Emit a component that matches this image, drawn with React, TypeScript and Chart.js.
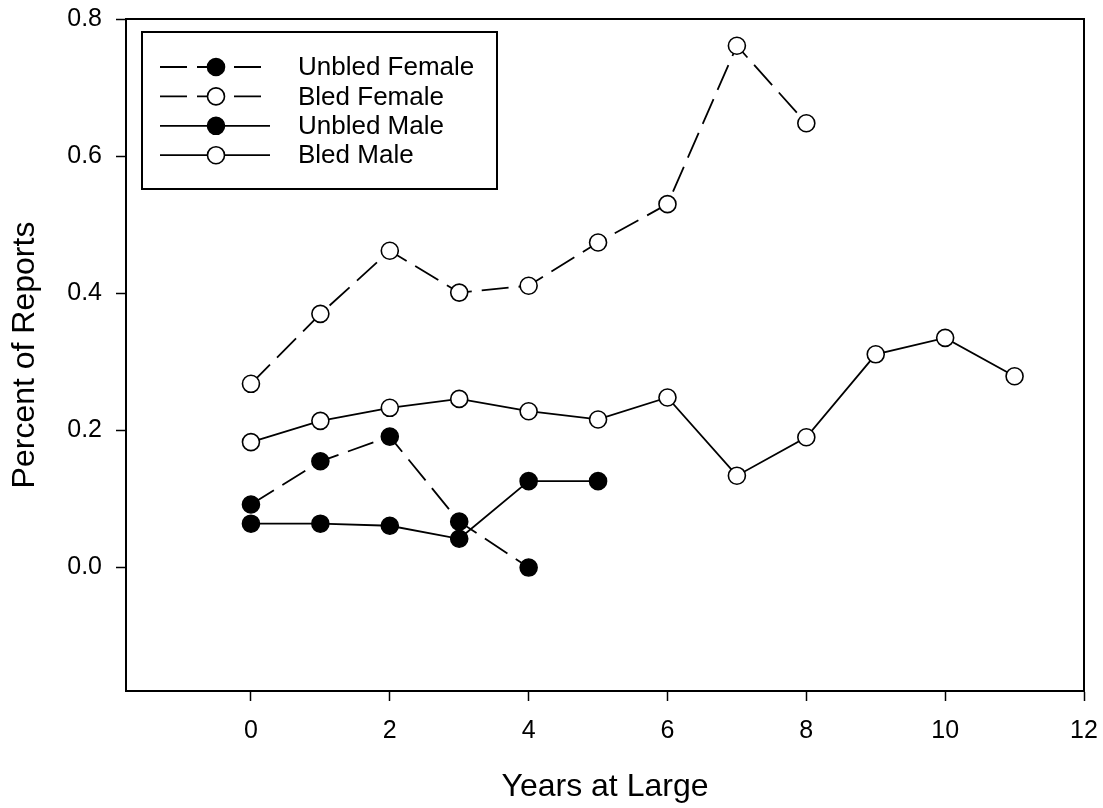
import React, { useEffect, useRef } from "react";
import { Chart, registerables } from "chart.js";

Chart.register(...registerables);

const seriesNames = ["Unbled Female", "Bled Female", "Unbled Male", "Bled Male"];

const unbledFemaleX = [0, 1, 2, 3, 4];
const unbledFemaleY = [0.092, 0.155, 0.191, 0.067, 0.0];

const bledFemaleX = [0, 1, 2, 3, 4, 5, 6, 7, 8];
const bledFemaleY = [0.268, 0.37, 0.462, 0.401, 0.411, 0.474, 0.53, 0.761, 0.648];

const unbledMaleX = [0, 1, 2, 3, 4, 5];
const unbledMaleY = [0.064, 0.064, 0.061, 0.042, 0.126, 0.126];

const bledMaleX = [0, 1, 2, 3, 4, 5, 6, 7, 8, 9, 10, 11];
const bledMaleY = [0.183, 0.214, 0.233, 0.246, 0.228, 0.216, 0.248, 0.134, 0.19, 0.311, 0.335, 0.279];

const xTickValues = [0, 2, 4, 6, 8, 10, 12];
const yTickValues = [0.0, 0.2, 0.4, 0.6, 0.8];

const xTitle = "Years at Large";
const yTitle = "Percent of Reports";

const FONT = "'Liberation Sans', Arial, Helvetica, sans-serif";

const pts = (xs: number[], ys: number[]) => xs.map((x, i) => ({ x, y: ys[i] }));

const framePlugin = {
  id: "frame",
  afterDraw(chart: any) {
    const { ctx, chartArea } = chart;
    ctx.save();
    ctx.strokeStyle = "#000";
    ctx.lineWidth = 2;
    ctx.setLineDash([]);
    ctx.beginPath();
    ctx.moveTo(chartArea.left, chartArea.top);
    ctx.lineTo(chartArea.right, chartArea.top);
    ctx.lineTo(chartArea.right, chartArea.bottom);
    ctx.stroke();
    ctx.restore();
  },
};

const legendPlugin = {
  id: "customLegend",
  afterDraw(chart: any) {
    const { ctx, chartArea } = chart;
    const boxL = chartArea.left + 16;
    const boxT = chartArea.top + 13;
    const boxW = 355;
    const boxH = 157;
    ctx.save();
    ctx.fillStyle = "#fff";
    ctx.fillRect(boxL, boxT, boxW, boxH);
    ctx.strokeStyle = "#000";
    ctx.lineWidth = 2;
    ctx.strokeRect(boxL, boxT, boxW, boxH);
    const lineX0 = boxL + 18;
    const lineX1 = boxL + 128;
    const markX = boxL + 74;
    const textX = boxL + 156;
    const row0 = boxT + 35;
    const rowStep = 29.4;
    chart.data.datasets.forEach((ds: any, i: number) => {
      const y = row0 + i * rowStep;
      ctx.strokeStyle = "#000";
      ctx.lineWidth = ds.borderWidth;
      ctx.setLineDash(ds.borderDash || []);
      ctx.beginPath();
      ctx.moveTo(lineX0, y);
      ctx.lineTo(lineX1, y);
      ctx.stroke();
      ctx.setLineDash([]);
      ctx.beginPath();
      ctx.arc(markX, y, ds.pointRadius, 0, Math.PI * 2);
      ctx.fillStyle = ds.pointBackgroundColor;
      ctx.fill();
      ctx.lineWidth = ds.pointBorderWidth;
      ctx.strokeStyle = ds.pointBorderColor;
      ctx.stroke();
      ctx.fillStyle = "#000";
      ctx.font = `26px ${FONT}`;
      ctx.textAlign = "left";
      ctx.textBaseline = "middle";
      ctx.fillText(ds.label, textX, y + 1);
    });
    ctx.restore();
  },
};

export default function App() {
  const ref = useRef<HTMLCanvasElement>(null);

  useEffect(() => {
    if (!ref.current) return;
    const mk = (label: string, data: any[], filled: boolean, dashed: boolean) => ({
      label,
      data,
      borderColor: "#000",
      borderWidth: 1.8,
      borderDash: dashed ? [27, 10] : [],
      pointRadius: 8.5,
      pointHoverRadius: 8.5,
      pointBorderWidth: 1.6,
      pointBorderColor: "#000",
      pointBackgroundColor: filled ? "#000" : "#fff",
      fill: false,
      tension: 0,
    });
    const chart = new Chart(ref.current, {
      type: "line",
      data: {
        datasets: [
          mk(seriesNames[0], pts(unbledFemaleX, unbledFemaleY), true, true),
          mk(seriesNames[1], pts(bledFemaleX, bledFemaleY), false, true),
          mk(seriesNames[2], pts(unbledMaleX, unbledMaleY), true, false),
          mk(seriesNames[3], pts(bledMaleX, bledMaleY), false, false),
        ],
      },
      options: {
        animation: false,
        responsive: false,
        layout: { padding: { top: 19, right: 19, left: 0, bottom: 0 } },
        plugins: { legend: { display: false }, tooltip: { enabled: false } },
        scales: {
          x: {
            type: "linear",
            min: -1.8,
            max: 12,
            afterBuildTicks: (s: any) => {
              s.ticks = xTickValues.map((v) => ({ value: v }));
            },
            afterFit: (s: any) => {
              s.height = 117;
              s.paddingLeft = 0;
              s.paddingRight = 0;
            },
            ticks: {
              color: "#000",
              padding: 15,
              font: { family: FONT, size: 25 },
              callback: (v: any) => String(v),
              maxRotation: 0,
            },
            grid: { drawOnChartArea: false, drawTicks: true, tickLength: 10, tickColor: "#000", tickWidth: 1.5 },
            border: { display: true, color: "#000", width: 2 },
            title: {
              display: true,
              text: xTitle,
              color: "#000",
              font: { family: FONT, size: 32 },
              padding: { top: 0, bottom: 2 },
            },
          },
          y: {
            type: "linear",
            min: -0.18,
            max: 0.8,
            afterBuildTicks: (s: any) => {
              s.ticks = yTickValues.map((v) => ({ value: v }));
            },
            afterFit: (s: any) => {
              s.width = 126;
              s.paddingTop = 0;
              s.paddingBottom = 0;
            },
            ticks: {
              color: "#000",
              padding: 14,
              font: { family: FONT, size: 25 },
              callback: (v: any) => Number(v).toFixed(1),
            },
            grid: { drawOnChartArea: false, drawTicks: true, tickLength: 10, tickColor: "#000", tickWidth: 1.5 },
            border: { display: true, color: "#000", width: 2 },
            title: {
              display: true,
              text: yTitle,
              color: "#000",
              font: { family: FONT, size: 32 },
              padding: { top: 6, bottom: 0 },
            },
          },
        },
      } as any,
      plugins: [framePlugin, legendPlugin],
    });
    return () => chart.destroy();
  }, []);

  return (
    <div style={{ position: "absolute", left: 0, top: 0, width: 1103, height: 808, background: "#fff" }}>
      <canvas ref={ref} width={1103} height={808} style={{ display: "block" }} />
    </div>
  );
}
